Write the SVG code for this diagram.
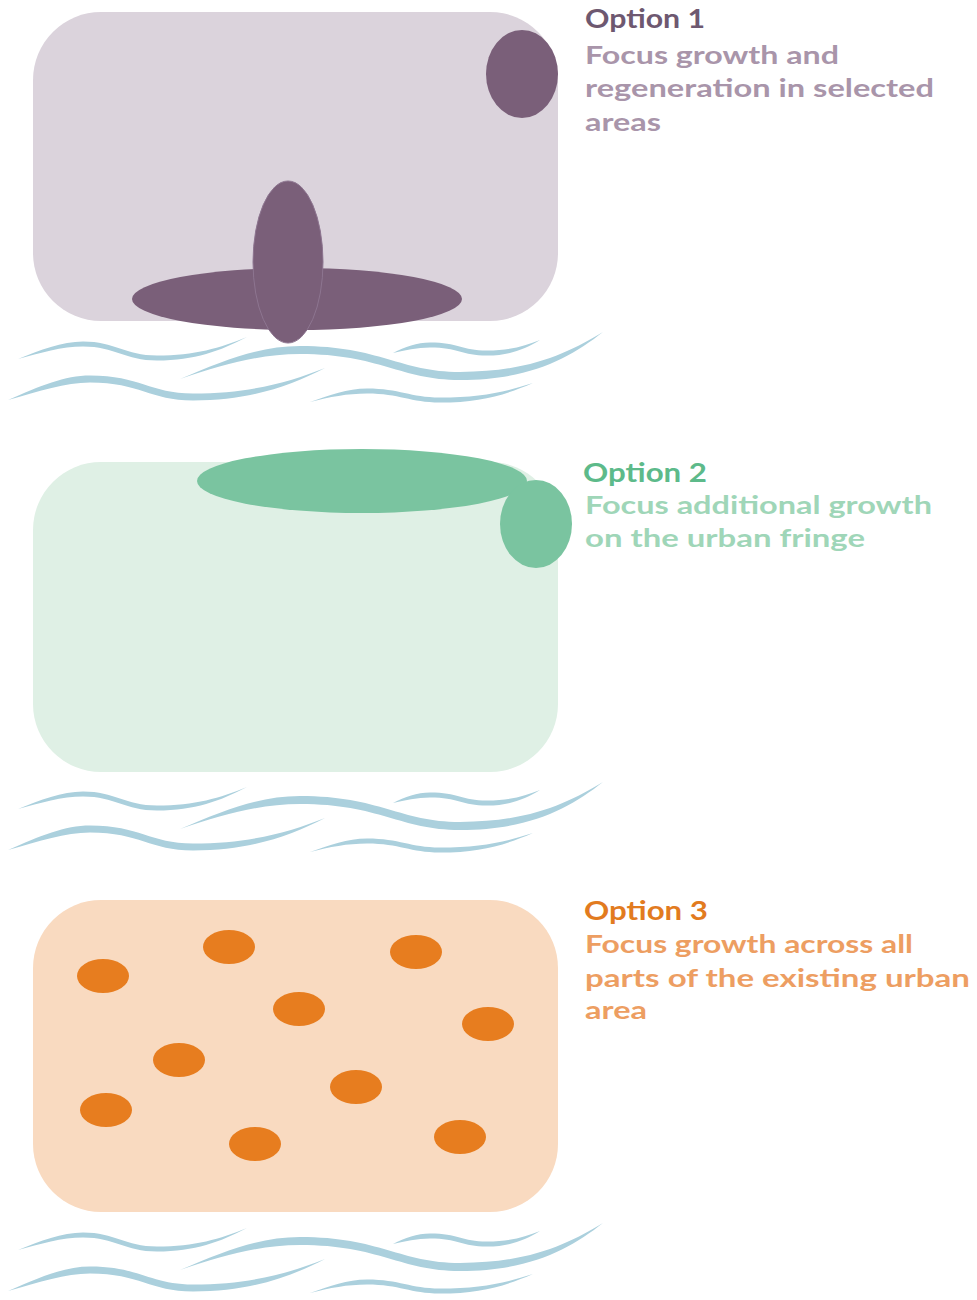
<svg xmlns="http://www.w3.org/2000/svg" xmlns:xlink="http://www.w3.org/1999/xlink" width="977" height="1300" viewBox="0 0 977 1300">
<style>
.t{font-family:Lato,"Liberation Sans",sans-serif;font-weight:700;font-size:26px}
.b{font-family:Lato,"Liberation Sans",sans-serif;font-weight:700;font-size:25px}
.wave{fill:#abd0dd}
.p1{fill:#7a5f79}
.g2{fill:#7ac4a0}
.o3{fill:#e77d1f}
</style>
<defs>
<g id="waves">
<path class="wave" d="M18,359 C40,350 62,341.5 83,341.5 C115,341.5 125,355.5 157,355.5 C195,355.5 220,348 247,337 C220,351 195,360.5 157,360.5 C125,360.5 115,346.5 83,346.5 C62,346.5 40,353 18,359 Z"/>
<path class="wave" d="M180,379 C225,360 260,346 300,346 C380,346 400,372 460,372 C530,372 570,352 603,332 C570,358 530,380 460,380 C400,380 380,354 300,354 C260,354 225,364 180,379 Z"/>
<path class="wave" d="M393,353 C405,347 417,342.5 430,342.5 C458,342.5 462,350.5 487,350.5 C510,350.5 525,346 540,340 C525,349 510,355.5 487,355.5 C462,355.5 458,347.5 430,347.5 C417,347.5 405,350 393,353 Z"/>
<path class="wave" d="M8,400 C40,386 65,375.5 90,375.5 C140,375.5 150,393.5 193,393.5 C250,393.5 290,382 325,368 C290,386 250,400.5 193,400.5 C150,400.5 140,382.5 90,382.5 C65,382.5 40,391 8,400 Z"/>
<path class="wave" d="M310,402 C330,395 347,388.5 367,388.5 C400,388.5 410,397.5 440,397.5 C480,397.5 505,392 533,383 C505,395 480,402.5 440,402.5 C410,402.5 400,393.5 367,393.5 C347,393.5 330,397 310,402 Z"/>
</g>
</defs>

<g id="option1">
<rect x="33" y="12" width="525" height="309" rx="68" fill="#dbd3dc"/>
<ellipse class="p1" cx="522" cy="74" rx="36" ry="44"/>
<ellipse class="p1" cx="297" cy="299" rx="165" ry="31"/>
<ellipse class="p1" cx="288" cy="262" rx="35" ry="81" stroke="#8d7590" stroke-width="1"/>
<use xlink:href="#waves"/>
<text class="t" x="585" y="28" fill="#6e5870" textLength="120" lengthAdjust="spacingAndGlyphs">Option 1</text>
<text class="b" x="585" y="64" fill="#a995aa" textLength="254" lengthAdjust="spacingAndGlyphs">Focus growth and</text>
<text class="b" x="585" y="97" fill="#a995aa" textLength="349" lengthAdjust="spacingAndGlyphs">regeneration in selected</text>
<text class="b" x="585" y="131" fill="#a995aa" textLength="76" lengthAdjust="spacingAndGlyphs">areas</text>
</g>

<g id="option2">
<rect x="33" y="462" width="525" height="310" rx="68" fill="#dff0e5"/>
<ellipse class="g2" cx="362" cy="481" rx="165" ry="32"/>
<ellipse class="g2" cx="536" cy="524" rx="36" ry="44"/>
<use xlink:href="#waves" transform="translate(0,450)"/>
<text class="t" x="583" y="482" fill="#5dba8a" textLength="124" lengthAdjust="spacingAndGlyphs">Option 2</text>
<text class="b" x="585" y="514" fill="#9fd6b8" textLength="347" lengthAdjust="spacingAndGlyphs">Focus additional growth</text>
<text class="b" x="585" y="547" fill="#9fd6b8" textLength="280" lengthAdjust="spacingAndGlyphs">on the urban fringe</text>
</g>

<g id="option3">
<rect x="33" y="900" width="525" height="312" rx="68" fill="#f9dac0"/>
<ellipse class="o3" cx="103" cy="976" rx="26" ry="17"/>
<ellipse class="o3" cx="229" cy="947" rx="26" ry="17"/>
<ellipse class="o3" cx="416" cy="952" rx="26" ry="17"/>
<ellipse class="o3" cx="299" cy="1009" rx="26" ry="17"/>
<ellipse class="o3" cx="488" cy="1024" rx="26" ry="17"/>
<ellipse class="o3" cx="179" cy="1060" rx="26" ry="17"/>
<ellipse class="o3" cx="356" cy="1087" rx="26" ry="17"/>
<ellipse class="o3" cx="106" cy="1110" rx="26" ry="17"/>
<ellipse class="o3" cx="255" cy="1144" rx="26" ry="17"/>
<ellipse class="o3" cx="460" cy="1137" rx="26" ry="17"/>
<use xlink:href="#waves" transform="translate(0,891)"/>
<text class="t" x="584" y="920" fill="#e27b1f" textLength="124" lengthAdjust="spacingAndGlyphs">Option 3</text>
<text class="b" x="585" y="953" fill="#ed9e62" textLength="328" lengthAdjust="spacingAndGlyphs">Focus growth across all</text>
<text class="b" x="585" y="987" fill="#ed9e62" textLength="385" lengthAdjust="spacingAndGlyphs">parts of the existing urban</text>
<text class="b" x="585" y="1019" fill="#ed9e62" textLength="62" lengthAdjust="spacingAndGlyphs">area</text>
</g>
</svg>
